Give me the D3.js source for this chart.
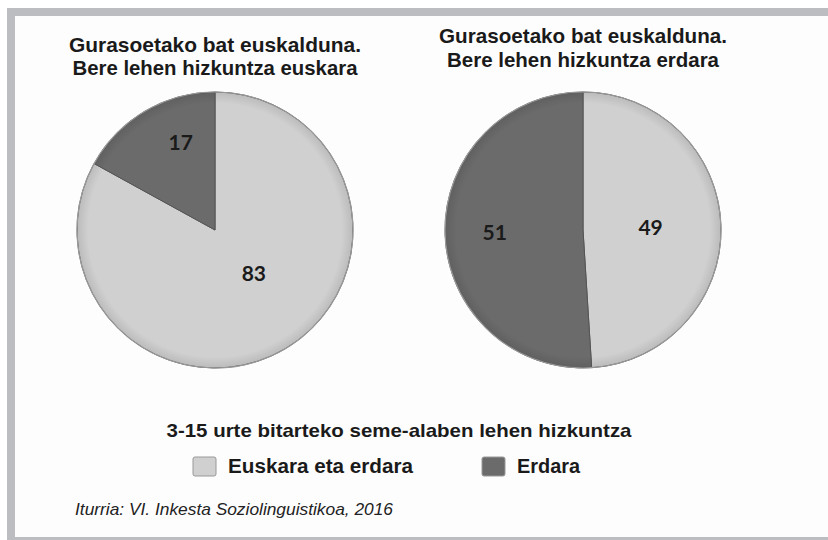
<!DOCTYPE html>
<html><head><meta charset="utf-8">
<script src="https://cdn.jsdelivr.net/npm/d3@7"></script>
<style>html,body{margin:0;padding:0;background:#fff;}svg{display:block;}</style>
</head><body>
<svg id="chart" width="828" height="540"></svg>
<script>
// ---- data ----
const categories = ["Euskara eta erdara", "Erdara"];
const pieTitles = [
  ["Gurasoetako bat euskalduna.", "Bere lehen hizkuntza euskara"],
  ["Gurasoetako bat euskalduna.", "Bere lehen hizkuntza erdara"]
];
const pie1Values = [83, 17];
const pie2Values = [49, 51];
const legendTitle = "3-15 urte bitarteko seme-alaben lehen hizkuntza";
const sourceNote = "Iturria: VI. Inkesta Soziolinguistikoa, 2016";

// ---- layout ----
const W = 828, H = 540;
const svg = d3.select("#chart");
const color = d3.scaleOrdinal().domain(categories).range(["#d0d0d0", "#6b6b6b"]);

// frame
svg.append("rect").attr("x", 0).attr("y", 0).attr("width", W).attr("height", H).attr("fill", "#ffffff");
svg.append("rect").attr("x", 7).attr("y", 8).attr("width", W - 7).attr("height", 8).attr("fill", "#bcbdc0");
svg.append("rect").attr("x", 7).attr("y", 8).attr("width", 8).attr("height", H - 8).attr("fill", "#bcbdc0");
svg.append("rect").attr("x", 7).attr("y", 537).attr("width", W - 7).attr("height", 3).attr("fill", "#bcbdc0");
svg.append("rect").attr("x", 15).attr("y", 16).attr("width", W - 15).attr("height", 521).attr("fill", "#fdfdfd");

// gradients for soft bevel
const defs = svg.append("defs");
categories.forEach((c, i) => {
  const g = defs.append("radialGradient").attr("id", "g" + i)
    .attr("gradientUnits", "userSpaceOnUse").attr("cx", 0).attr("cy", 0).attr("r", 138);
  const base = d3.color(color(c));
  g.append("stop").attr("offset", "0%").attr("stop-color", base.formatHex());
  g.append("stop").attr("offset", "92%").attr("stop-color", base.formatHex());
  g.append("stop").attr("offset", "100%").attr("stop-color", base.darker(0.3).formatHex());
});

const pies = [
  {values: pie1Values, cx: 215, cy: 230, r: 138, titleY: [52, 75], titleW: [292, 285], labelF: [0.42, 0.68], labelRot: [-0.2, 0.16]},
  {values: pie2Values, cx: 583, cy: 230, r: 138, titleY: [43, 67], titleW: [288, 272], labelF: [0.49, 0.64], labelRot: [0, 0]}
];

const pieGen = d3.pie().sort(null).value(d => d);

pies.forEach((p, pi) => {
  const g = svg.append("g").attr("transform", `translate(${p.cx},${p.cy})`);
  const arc = d3.arc().innerRadius(0).outerRadius(p.r);
  const arcs = pieGen(p.values);
  g.selectAll("path").data(arcs).join("path")
    .attr("d", arc)
    .attr("fill", (d, i) => `url(#g${i})`)
    .attr("stroke", "#555")
    .attr("stroke-width", 1);
  g.append("circle").attr("r", p.r).attr("fill", "none").attr("stroke", "#9a9a9a").attr("stroke-width", 1.2);
  g.selectAll("text.lbl").data(arcs).join("text").attr("class", "lbl")
    .attr("transform", (d, i) => {
      const lr = p.r * p.labelF[i];
      const a = (d.startAngle + d.endAngle) / 2 + p.labelRot[i];
      return `translate(${lr * Math.sin(a)},${-lr * Math.cos(a)})`;
    })
    .attr("text-anchor", "middle").attr("dy", "0.36em")
    .attr("font-family", "Lato, 'Open Sans', sans-serif").attr("font-weight", "bold")
    .attr("font-size", 21).attr("fill", "#1a1a1a")
    .text(d => d.data);
  // titles
  pieTitles[pi].forEach((t, li) => {
    svg.append("text").attr("x", p.cx).attr("y", p.titleY[li])
      .attr("text-anchor", "middle")
      .attr("font-family", "'Liberation Sans', Arial, sans-serif").attr("font-weight", "bold")
      .attr("font-size", 20.5).attr("fill", "#1a1a1a")
      .attr("textLength", p.titleW[li]).attr("lengthAdjust", "spacingAndGlyphs")
      .text(t);
  });
});

// legend
svg.append("text").attr("x", 399).attr("y", 437).attr("text-anchor", "middle")
  .attr("font-family", "'Liberation Sans', Arial, sans-serif").attr("font-weight", "bold")
  .attr("font-size", 19).attr("fill", "#1a1a1a")
  .attr("textLength", 465).attr("lengthAdjust", "spacingAndGlyphs")
  .text(legendTitle);

const legendX = [193, 482];
const legendTW = [185, 63];
const lg = svg.selectAll("g.leg").data(categories).join("g").attr("class", "leg")
  .attr("transform", (d, i) => `translate(${legendX[i]},457)`);
lg.append("rect").attr("width", 23).attr("height", 19).attr("rx", 2)
  .attr("fill", d => color(d)).attr("stroke", "#999").attr("stroke-width", 1);
lg.append("text").attr("x", 35).attr("y", 16)
  .attr("font-family", "'Liberation Sans', Arial, sans-serif").attr("font-weight", "bold")
  .attr("font-size", 20).attr("fill", "#1a1a1a")
  .attr("textLength", (d, i) => legendTW[i]).attr("lengthAdjust", "spacingAndGlyphs")
  .text(d => d);

// source
svg.append("text").attr("x", 75).attr("y", 515)
  .attr("font-family", "'Liberation Sans', Arial, sans-serif").attr("font-style", "italic")
  .attr("font-size", 17).attr("fill", "#222")
  .attr("textLength", 318).attr("lengthAdjust", "spacingAndGlyphs")
  .text(sourceNote);
</script>
</body></html>
